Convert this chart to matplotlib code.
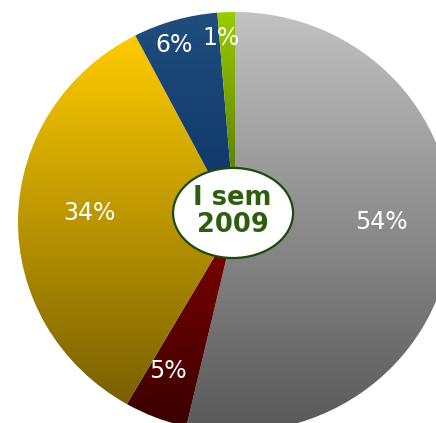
import numpy as np
import matplotlib.pyplot as plt
from matplotlib.patches import Ellipse
from matplotlib.colors import to_rgb

# shares, clockwise from 12 o'clock
values = [53.6, 4.7, 34.1, 6.3, 1.3]
labels = [f"{round(v)}%" for v in values]
center_text = "I sem\n2009"

# gradient fill for every slice: top colour -> bottom colour
top_colors = ["#c2c2c2", "#820000", "#ffcc00", "#1f4e7d", "#99cc00"]
bottom_colors = ["#585858", "#3a0000", "#786000", "#0e3366", "#4a6a00"]
lab_dist = [0.673, 0.774, 0.67, 0.889, 0.879]
lab_shift = [6.5, -2.1, -2.4, 2.4, 1.9]

W, H = 436, 423
cx, cy, rx, ry = 235, 222, 217, 210   # pie centre / radii in pixels

fig = plt.figure(figsize=(W / 100, H / 100), dpi=100)
ax = fig.add_axes([0, 0, 1, 1])

wedges, _ = ax.pie(values, startangle=90, counterclock=False, radius=1,
                   wedgeprops=dict(facecolor="none", linewidth=0))

t = np.linspace(0, 1, 256)[:, None, None]
for w, c0, c1 in zip(wedges, top_colors, bottom_colors):
    ext = w.get_path().get_extents()
    img = np.array(to_rgb(c0)) * (1 - t) + np.array(to_rgb(c1)) * t
    im = ax.imshow(img, extent=(ext.x0, ext.x1, ext.y0, ext.y1), origin="upper",
                   aspect="auto", interpolation="bilinear", zorder=1)
    im.set_clip_path(w)

for w, lab, d, s in zip(wedges, labels, lab_dist, lab_shift):
    ang = np.deg2rad((w.theta1 + w.theta2) / 2 + s)
    ax.text(d * np.cos(ang), d * np.sin(ang), lab, color="white", fontsize=17,
            ha="center", va="center", zorder=3)

ax.add_patch(Ellipse((-0.009, 0.043), 0.553, 0.429, facecolor="white",
                     edgecolor="#1b4a0b", linewidth=1.6, zorder=4))
ax.text(-0.012, 0.048, center_text, color="#2d5e0e", fontsize=18.5, fontweight="bold",
        ha="center", va="center", linespacing=1.05, zorder=5)

ax.set_xlim(-cx / rx, (W - cx) / rx)
ax.set_ylim(-(H - cy) / ry, cy / ry)
ax.set_aspect("auto")
ax.axis("off")

fig.savefig("out.png", dpi=100)
